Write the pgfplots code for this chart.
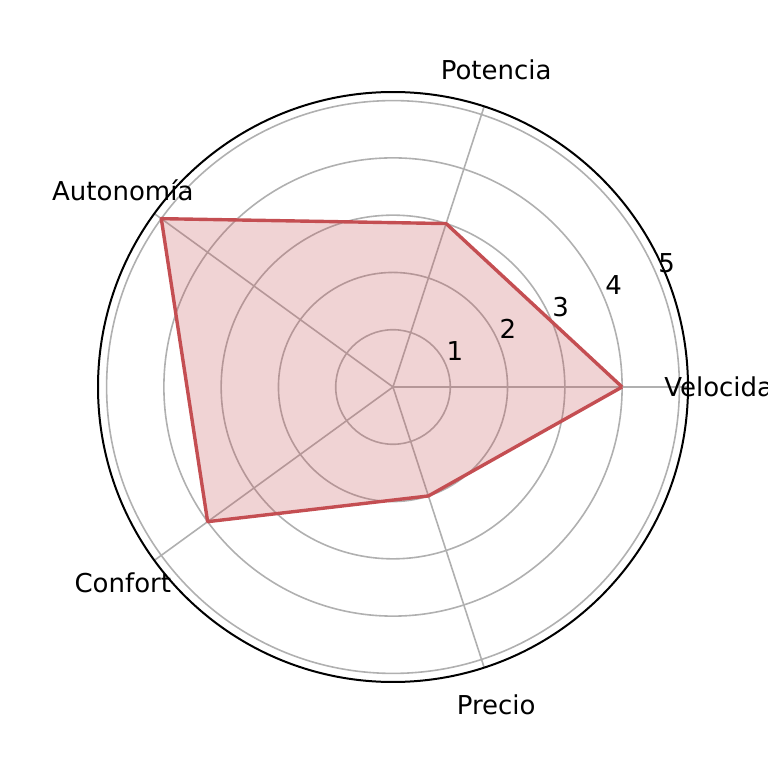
\documentclass[border=0pt]{standalone}
\usepackage{fontspec}
\setmainfont{DejaVu Sans}
\usepackage{pgfplots}
\pgfplotsset{compat=1.18}
\usepgfplotslibrary{polar}
\definecolor{sred}{RGB}{196,78,82}
\definecolor{gridgray}{RGB}{176,176,176}
\begin{document}
\begin{tikzpicture}
\path[use as bounding box] (0,0) rectangle (384bp,384bp);
\fontsize{13bp}{15bp}\selectfont
\begin{polaraxis}[
  at={(196.5bp,190.5bp)}, anchor=center,
  scale only axis,
  width=295bp, height=295bp,
  ymin=0, ymax=5.15,
  xtick={0,72,144,216,288},
  xticklabels={},
  ytick={1,2,3,4,5},
  yticklabels={},
  grid=major,
  major grid style={color=gridgray, line width=0.8bp},
  separate axis lines,
  x axis line style={black, line width=1bp},
  y axis line style={draw=none},
  tick style={draw=none},
  clip=false,
]
\addplot[draw=sred, line width=1.7bp, fill=sred, fill opacity=0.25, draw opacity=1, line join=round]
  coordinates {(0,4) (72,3) (144,5) (216,4) (288,2) (360,4)};
\node[xshift=4.5bp, yshift=7bp] at (axis cs:22.5,1) {1};
\node[xshift=4.5bp, yshift=7bp] at (axis cs:22.5,2) {2};
\node[xshift=4.5bp, yshift=7bp] at (axis cs:22.5,3) {3};
\node[xshift=4.5bp, yshift=7bp] at (axis cs:22.5,4) {4};
\node[xshift=4.5bp, yshift=7bp] at (axis cs:22.5,5) {5};
\node at (axis cs:0,5.83) {Velocidad};
\node at (axis cs:72,5.83) {Potencia};
\node at (axis cs:144,5.83) {Autonomía};
\node at (axis cs:216,5.83) {Confort};
\node at (axis cs:288,5.83) {Precio};
\end{polaraxis}
\end{tikzpicture}
\end{document}
